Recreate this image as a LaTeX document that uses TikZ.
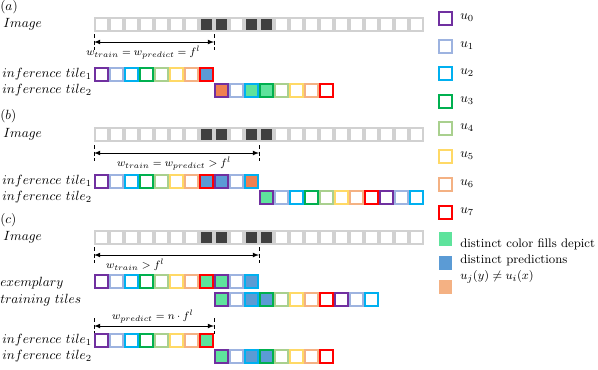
\documentclass[tikz,border=0pt]{standalone}
\usepackage{tikz}
\usetikzlibrary{arrows, positioning, calc}
\definecolor{u0}{HTML}{7030A0}
\definecolor{u1}{HTML}{9DB3E0}
\definecolor{u2}{HTML}{00B0F0}
\definecolor{u3}{HTML}{00B050}
\definecolor{u4}{HTML}{A9D08E}
\definecolor{u5}{HTML}{FFD966}
\definecolor{u6}{HTML}{F4B183}
\definecolor{u7}{HTML}{FF0000}
\definecolor{fg}{HTML}{5EE39C}
\definecolor{fb}{HTML}{5B9BD5}
\definecolor{fo}{HTML}{EF8050}
\definecolor{fp}{HTML}{F4B183}
\tikzset{
  pix/.style={draw=black!18, line width=1.5pt, minimum size=9.75pt, inner sep=0pt},
  tile/.style={draw=#1, line width=1.5pt, minimum size=9.75pt, inner sep=0pt},
  swatch/.style={minimum size=10pt, inner sep=0pt},
  lab/.style={anchor=west, inner sep=0pt},
  klab/.style={lab, font=\fontsize{9.3}{11}\selectfont},
  dim/.style={<->, >=latex, semithick},
  tck/.style={densely dashed, semithick},
  wlab/.style={font=\footnotesize, inner sep=1pt}
}
\newcommand{\imgrow}[2]{%
  \foreach \f [count=\k from 0] in {white,white,white,white,white,white,white,black!75,black!75,white,black!75,black!75,white,white,white,white,white,white,white,white,white,white}{
    \node[pix, fill=\f] (#1-\k) at ({101.5+15*\k},#2) {};
  }
}
\newcommand{\tilerow}[4]{%
  \foreach \c/\f [count=\k from 0] in {#4}{
    \node[tile=\c, fill=\f] (#1-\k) at ({101.5+15*(#2+\k)},#3) {};
  }
}
\newcommand{\tcks}[2]{\draw[tck] ($(#1)+(0,-8)$) -- ($(#1)+(0,8)$); \draw[tck] ($(#2)+(0,-8)$) -- ($(#2)+(0,8)$);}

\begin{document}
\begin{tikzpicture}[x=0.75pt, y=-0.75pt]
		\useasboundingbox (0,0) rectangle (598,369);
		% (a)
		\node[lab] (pa) at (0,7) {$(a)$};
		\node[lab] (ia) at (3,24) {$Image$};
		\imgrow{aimg}{24}
		\coordinate (al) at (94,42);
		\coordinate (ar) at (214,42);
		\tcks{al}{ar}
		\draw[dim] (al) -- node[wlab, pos=0.41, below=2pt] {$w_{train} = w_{predict} = f^l$} (ar);
		\node[lab] (ta1) at (2,74.5) {$inference\ tile_1$};
		\node[lab] (ta2) at (2,90.5) {$inference\ tile_2$};
		\tilerow{at1}{0}{74.5}{u0/white, u1/white, u2/white, u3/white, u4/white, u5/white, u6/white, u7/fb}
		\tilerow{at2}{8}{90.5}{u0/fo, u1/white, u2/fg, u3/fg, u4/white, u5/white, u6/white, u7/white}
		% (b)
		\node[lab] (pb) at (0,116) {$(b)$};
		\node[lab] (ib) at (3,134.5) {$Image$};
		\imgrow{bimg}{134.5}
		\coordinate (bl) at (94,153);
		\coordinate (br) at (259,153);
		\tcks{bl}{br}
		\draw[dim] (bl) -- node[wlab, pos=0.485, below=2pt] {$w_{train} = w_{predict} > f^l$} (br);
		\node[lab] (tb1) at (2,181.5) {$inference\ tile_1$};
		\node[lab] (tb2) at (2,197.5) {$inference\ tile_2$};
		\tilerow{bt1}{0}{181.5}{u0/white, u1/white, u2/white, u3/white, u4/white, u5/white, u6/white, u7/fb, u0/fb, u1/white, u2/fo}
		\tilerow{bt2}{11}{197.5}{u0/fg, u1/white, u2/white, u3/white, u4/white, u5/white, u6/white, u7/white, u0/white, u1/white, u2/white}
		% (c)
		\node[lab] (pc) at (0,220) {$(c)$};
		\node[lab] (ic) at (3,237.5) {$Image$};
		\imgrow{cimg}{237.5}
		\coordinate (cl) at (94,255);
		\coordinate (cr) at (259,255);
		\tcks{cl}{cr}
		\draw[dim] (cl) -- node[wlab, pos=0.25, below=2pt] {$w_{train} > f^l$} (cr);
		\node[lab] (ex1) at (0,283) {$exemplary$};
		\node[lab] (ex2) at (0,300) {$training\ tiles$};
		\tilerow{ct1}{0}{281.5}{u0/white, u1/white, u2/white, u3/white, u4/white, u5/white, u6/white, u7/fg, u0/fg, u1/white, u2/fb}
		\tilerow{ct2}{8}{299}{u0/fg, u1/white, u2/fb, u3/fb, u4/white, u5/white, u6/white, u7/white, u0/white, u1/white, u2/white}
		\coordinate (dl) at (94,326);
		\coordinate (dr) at (214,326);
		\tcks{dl}{dr}
		\draw[dim] (dl) -- node[wlab, pos=0.49, above=1pt] {$w_{predict} = n \cdot f^l$} (dr);
		\node[lab] (tc1) at (2,340.5) {$inference\ tile_1$};
		\node[lab] (tc2) at (2,356.5) {$inference\ tile_2$};
		\tilerow{it1}{0}{340.5}{u0/white, u1/white, u2/white, u3/white, u4/white, u5/white, u6/white, u7/fg}
		\tilerow{it2}{8}{356.5}{u0/fg, u1/white, u2/fb, u3/fb, u4/white, u5/white, u6/white, u7/white}
		% legend
		\foreach \y [count=\k from 0] in {18,46,73,101,128,156,184,212}{
			\node[tile=u\k, fill=white] (key\k) at (445.5,\y) {};
			\node[lab] (ku\k) at (460,\y) {$u_\k$};
		}
		\node[swatch, fill=fg] (sg) at (445.5,239) {};
		\node[swatch, fill=fb] (sb) at (445.5,263) {};
		\node[swatch, fill=fp] (sp) at (445.5,287) {};
		\node[klab] (kt1) at (460,244) {distinct color fills depict};
		\node[klab] (kt2) at (460,260) {distinct predictions};
		\node[klab] (kt3) at (460,277) {$u_j(y) \neq u_i(x)$};
	\end{tikzpicture}
\end{document}
